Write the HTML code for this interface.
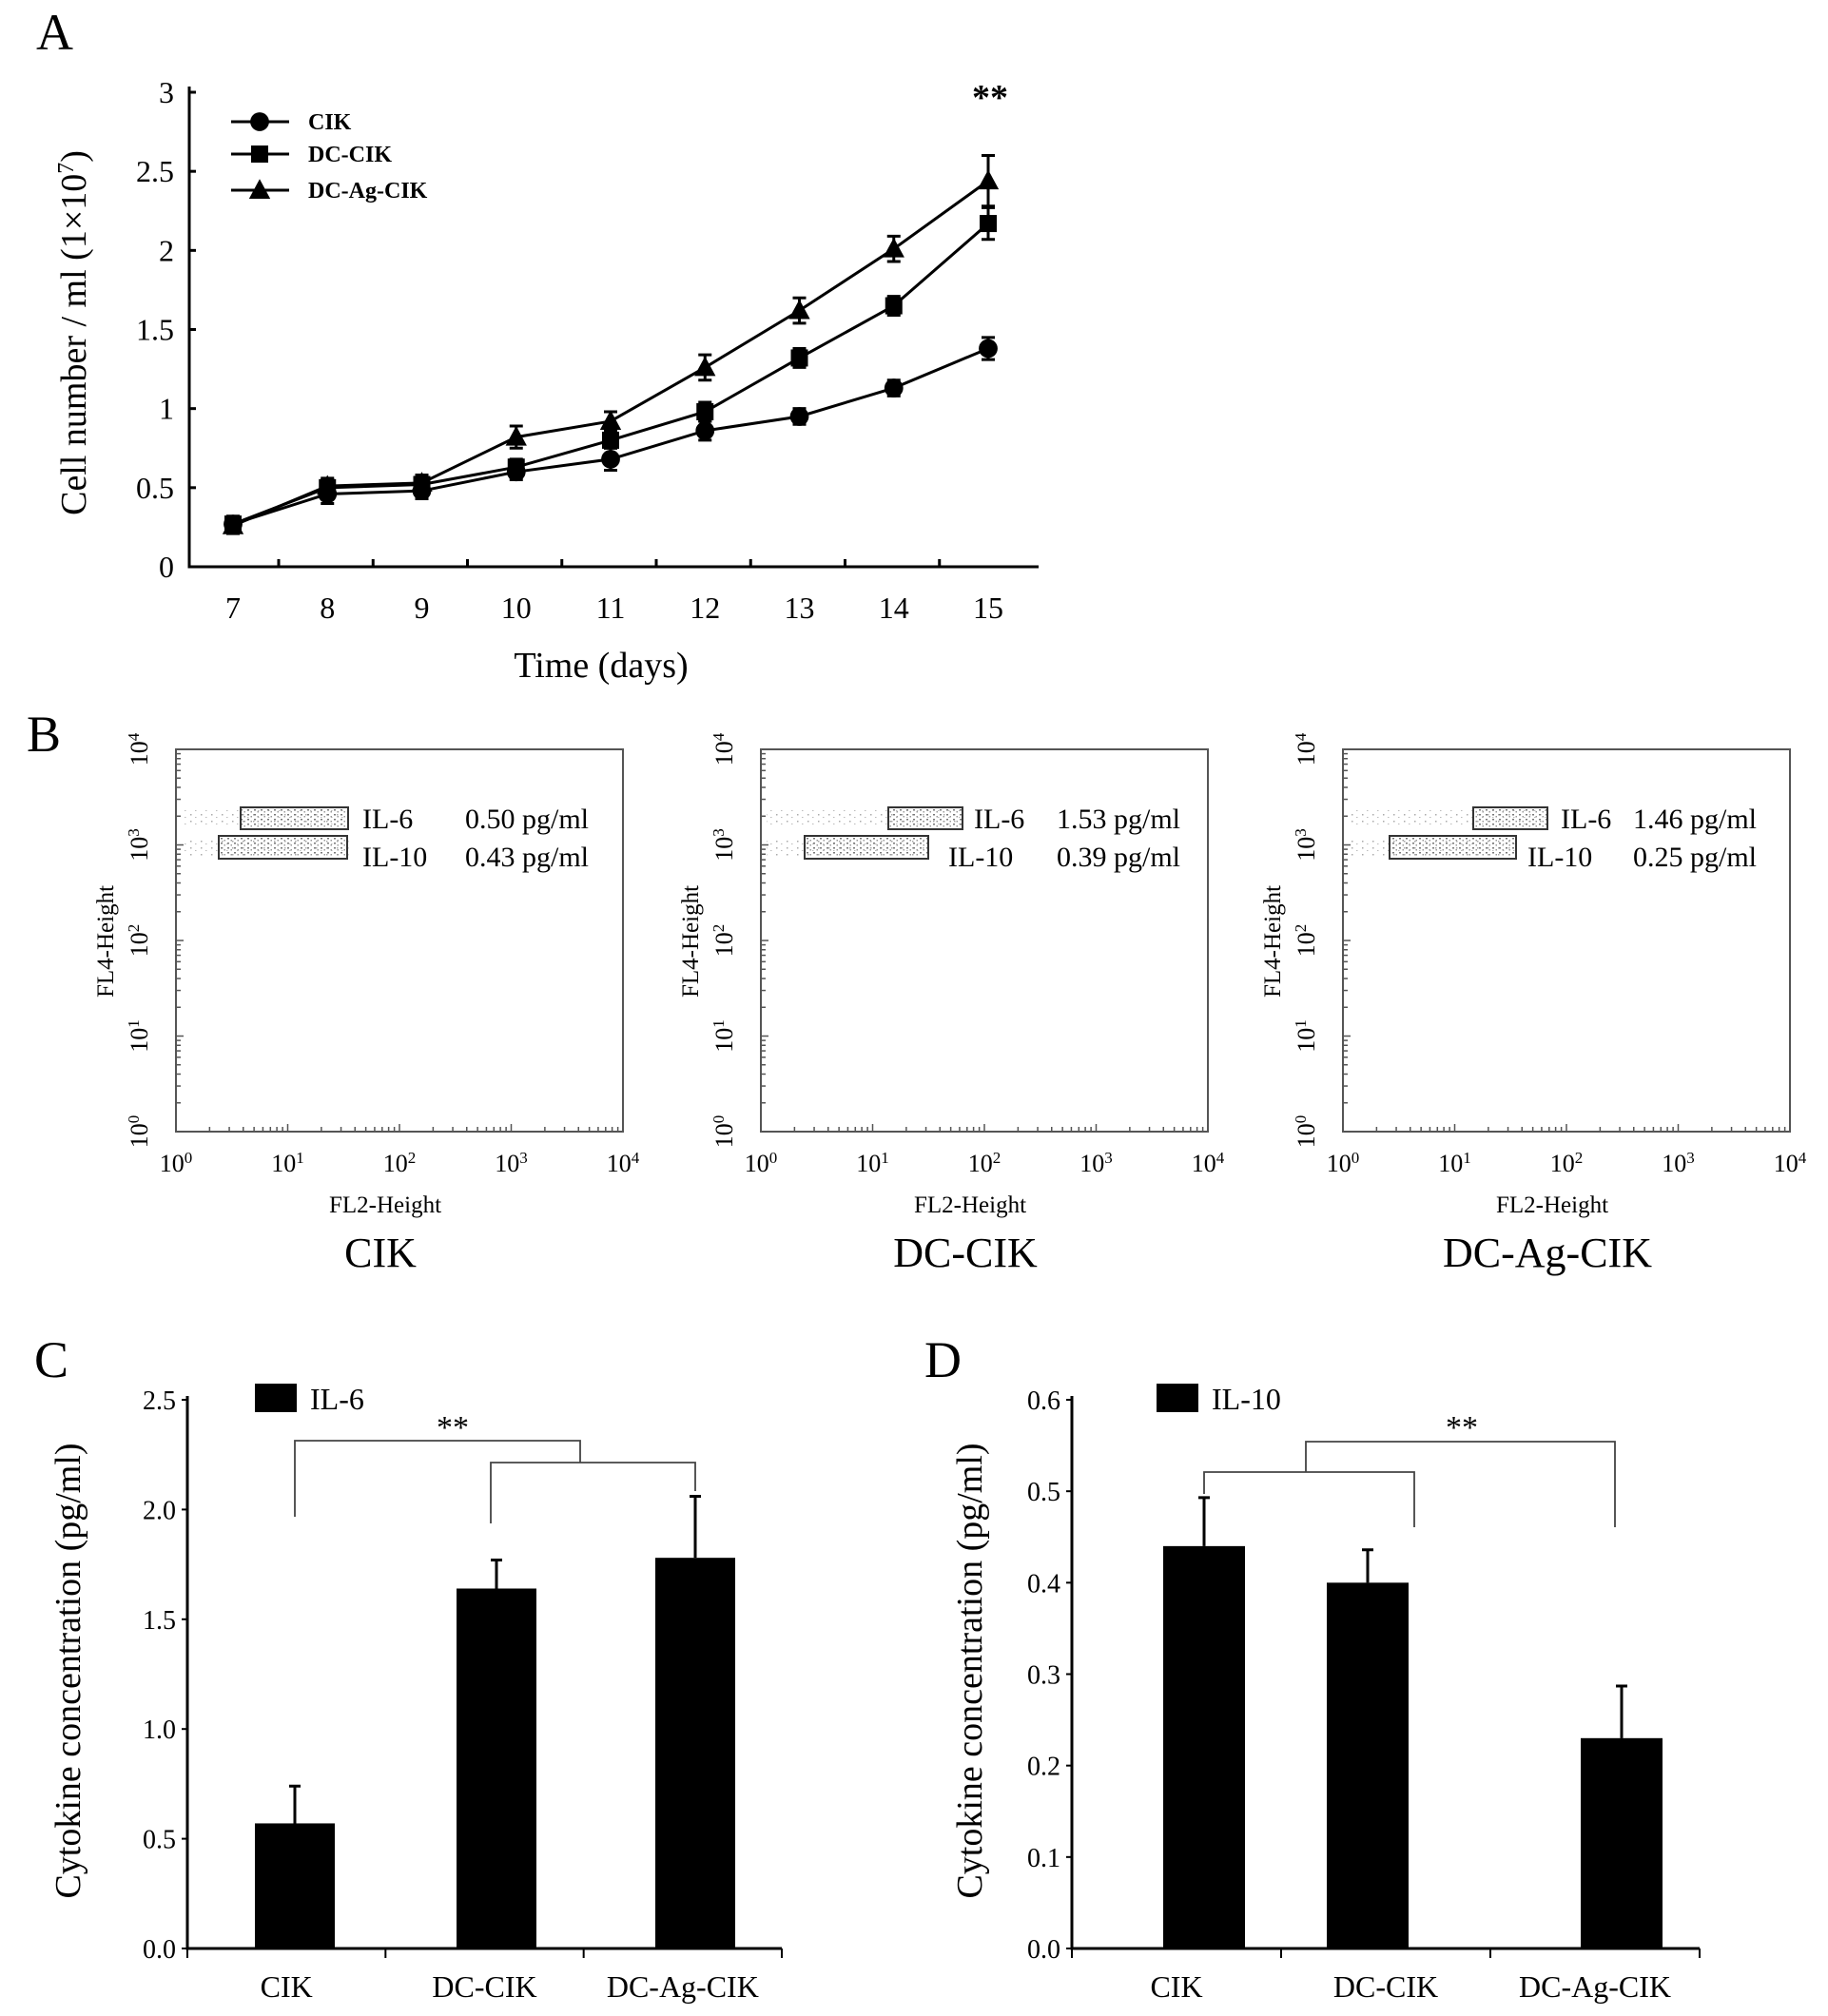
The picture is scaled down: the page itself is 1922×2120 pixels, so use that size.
<!DOCTYPE html>
<html><head><meta charset="utf-8">
<style>
html,body{margin:0;padding:0;background:#fff;}
svg{display:block;font-family:"Liberation Serif",serif;}
</style></head>
<body>
<svg id="fig" width="1922" height="2120" viewBox="0 0 1922 2120" xmlns="http://www.w3.org/2000/svg">
<defs>
<pattern id="speck" width="7" height="5" patternUnits="userSpaceOnUse">
<rect x="1" y="1" width="2" height="1.5" fill="#777"/><rect x="4.5" y="3" width="1.5" height="1.5" fill="#999"/>
</pattern>
<pattern id="speckLight" width="11" height="7" patternUnits="userSpaceOnUse">
<rect x="2" y="2" width="1.5" height="1.5" fill="#aaa"/><rect x="7" y="5" width="1.5" height="1" fill="#bbb"/>
</pattern>
</defs>
<rect width="1922" height="2120" fill="#fff"/>
<g id="A"></g>
<g id="B"></g>
<g id="C"></g>
<g id="D"></g>
</svg>
<script>
// ---- Panel A data ----
const days = [7,8,9,10,11,12,13,14,15];
const cikVals = [0.27,0.46,0.48,0.60,0.68,0.86,0.95,1.13,1.38];
const cikErr = [0.05,0.06,0.05,0.05,0.07,0.06,0.05,0.05,0.07];
const dccikVals = [0.27,0.50,0.52,0.63,0.80,0.98,1.32,1.65,2.17];
const dccikErr = [0.04,0.05,0.05,0.05,0.05,0.06,0.06,0.06,0.10];
const dcagVals = [0.26,0.51,0.53,0.82,0.92,1.26,1.62,2.01,2.44];
const dcagErr = [0.05,0.05,0.05,0.07,0.06,0.08,0.08,0.08,0.16];
const aYTicks = [0,0.5,1,1.5,2,2.5,3];
const aYTickLabels = ["0","0.5","1","1.5","2","2.5","3"];
// ---- Panel B data ----
const flowGroups = ["CIK","DC-CIK","DC-Ag-CIK"];
const il6Text = ["0.50 pg/ml","1.53 pg/ml","1.46 pg/ml"];
const il10Text = ["0.43 pg/ml","0.39 pg/ml","0.25 pg/ml"];
// ---- Panel C/D data ----
const barCats = ["CIK","DC-CIK","DC-Ag-CIK"];
const il6Vals = [0.57,1.64,1.78];
const il6Err = [0.17,0.13,0.28];
const il6Ticks = [0,0.5,1.0,1.5,2.0,2.5];
const il6TickLabels = ["0.0","0.5","1.0","1.5","2.0","2.5"];
const il10Vals = [0.44,0.40,0.23];
const il10Err = [0.053,0.036,0.057];
const il10Ticks = [0,0.1,0.2,0.3,0.4,0.5,0.6];
const il10TickLabels = ["0.0","0.1","0.2","0.3","0.4","0.5","0.6"];

const NS="http://www.w3.org/2000/svg";
function mk(parent,tag,attrs,text){const e=document.createElementNS(NS,tag);for(const k in attrs)e.setAttribute(k,attrs[k]);if(text!==undefined)e.textContent=text;parent.appendChild(e);return e;}

// ===== Panel A =====
(function(){
const g=document.getElementById('A');
const x0=199,xEnd=1092,y0=596,y3=97;
const xs=d=>245+(d-7)*(1039-245)/8;
const ys=v=>y0-(v/3)*(y0-y3);
let t=mk(g,'text',{x:38,y:52,'font-size':54},'A');

let ax=mk(g,'path',{d:`M${x0},${y3-6} V${y0} H${xEnd}`,stroke:'#000','stroke-width':3,fill:'none'});

aYTicks.forEach((v,i)=>{mk(g,'line',{x1:x0,x2:x0+7,y1:ys(v),y2:ys(v),stroke:'#000','stroke-width':3});
 const l=mk(g,'text',{x:x0-16,y:ys(v)+11,'font-size':32,'text-anchor':'end'},aYTickLabels[i]);
 });
days.forEach((d,i)=>{
 if(i<8)mk(g,'line',{x1:xs(d)+48,x2:xs(d)+48,y1:y0,y2:y0-8,stroke:'#000','stroke-width':3});
 const l=mk(g,'text',{x:xs(d),y:650,'font-size':32,'text-anchor':'middle'},String(d));
 });
let xt=mk(g,'text',{x:632,y:712,'font-size':38,'text-anchor':'middle'},'Time (days)');

let yt=mk(g,'text',{x:0,y:0,'font-size':38,'text-anchor':'middle',transform:'translate(90,350) rotate(-90)'});
yt.innerHTML='Cell number / ml (1×10<tspan baseline-shift="super" font-size="24">7</tspan>)';

const series=[[cikVals,cikErr,'circle','cik'],[dccikVals,dccikErr,'square','dc-cik'],[dcagVals,dcagErr,'triangle','dc-ag-cik']];
function marker(gg,type,cx,cy,s){
 if(type==='circle')return mk(gg,'circle',{cx,cy,r:s*0.55,fill:'#000'});
 if(type==='square')return mk(gg,'rect',{x:cx-s*0.5,y:cy-s*0.5,width:s,height:s,fill:'#000'});
 return mk(gg,'path',{d:`M${cx},${cy-s*0.65} L${cx+s*0.62},${cy+s*0.5} L${cx-s*0.62},${cy+s*0.5}Z`,fill:'#000'});}
series.forEach(([vals,err,type,name])=>{
 const sg=mk(g,'g',{});
 const p=mk(sg,'polyline',{points:vals.map((v,i)=>xs(days[i])+','+ys(v)).join(' '),fill:'none',stroke:'#000','stroke-width':3});
 
 vals.forEach((v,i)=>{const cx=xs(days[i]);
  const e=mk(sg,'path',{d:`M${cx},${ys(v-err[i])} V${ys(v+err[i])} M${cx-7},${ys(v-err[i])} H${cx+7} M${cx-7},${ys(v+err[i])} H${cx+7}`,stroke:'#000','stroke-width':3,fill:'none'});
  
  const m=marker(sg,type,cx,ys(v),18);});
});
const leg=[['CIK','circle',128],['DC-CIK','square',162],['DC-Ag-CIK','triangle',200]];
leg.forEach(([n,type,y])=>{const lg=mk(g,'g',{});
 mk(lg,'line',{x1:243,x2:304,y1:y,y2:y,stroke:'#000','stroke-width':3});marker(lg,type,273,y,18);
 mk(lg,'text',{x:324,y:y+8,'font-size':24,'font-weight':'bold'},n);});
let st=mk(g,'text',{x:1041,y:115,'font-size':38,'font-weight':'bold','text-anchor':'middle'},'**');

})();

// ===== Panel B =====
(function(){
const g=document.getElementById('B');
let t=mk(g,'text',{x:28,y:790,'font-size':54},'B');

const lefts=[185,800,1412];const W=470,top=788,bot=1190;
const il6Box=[[253,366],[934,1012],[1549,1627]];
const il10Box=[[230,365],[846,976],[1461,1594]];
const il6TX=[381,1024,1641],il6VX=[489,1111,1717];
const il10TX=[381,997,1606],il10VX=[489,1111,1717];
flowGroups.forEach((name,k)=>{
 const L=lefts[k],R=L+W;
 const pg=mk(g,'g',{});
 mk(pg,'rect',{x:L,y:top,width:W,height:bot-top,fill:'none',stroke:'#555','stroke-width':2});
 const dec=(bot-top)/4, decx=W/4;
 for(let i=0;i<=4;i++){
  const yl=mk(pg,'text',{x:0,y:0,'font-size':26,'text-anchor':'middle',transform:`translate(${L-30},${bot-i*dec}) rotate(-90)`});
  yl.innerHTML='10<tspan baseline-shift="super" font-size="17">'+i+'</tspan>';
  
  const xl=mk(pg,'text',{x:L+i*decx,y:1232,'font-size':26,'text-anchor':'middle'});
  xl.innerHTML='10<tspan baseline-shift="super" font-size="17">'+i+'</tspan>';
  
  if(i<4)for(let m=1;m<10;m++){const xx=L+(i+Math.log10(m))*decx;mk(pg,'line',{x1:xx,x2:xx,y1:bot,y2:bot-(m===1?8:5),stroke:'#555','stroke-width':1.5});
   const yy=bot-(i+Math.log10(m))*dec;mk(pg,'line',{x1:L,x2:L+(m===1?8:5),y1:yy,y2:yy,stroke:'#555','stroke-width':1.5});}
 }
 const yt=mk(pg,'text',{x:0,y:0,'font-size':25,'text-anchor':'middle',transform:`translate(${L-66},990) rotate(-90)`},'FL4-Height');
 
 const xt=mk(pg,'text',{x:L+220,y:1275,'font-size':25,'text-anchor':'middle'},'FL2-Height');
 
 const gt=mk(pg,'text',{x:L+215,y:1332,'font-size':44,'text-anchor':'middle'},name);
 
 mk(pg,'rect',{x:L+6,y:852,width:il6Box[k][1]-L-4,height:17,fill:'url(#speckLight)'});
 mk(pg,'rect',{x:L+6,y:882,width:il10Box[k][1]-L-4,height:19,fill:'url(#speckLight)'});
 mk(pg,'rect',{x:il6Box[k][0],y:851,width:il6Box[k][1]-il6Box[k][0],height:20,fill:'url(#speck)'});
 mk(pg,'rect',{x:il10Box[k][0],y:881,width:il10Box[k][1]-il10Box[k][0],height:20,fill:'url(#speck)'});
 const b1=mk(pg,'rect',{x:il6Box[k][0],y:849,width:il6Box[k][1]-il6Box[k][0],height:23,fill:'none',stroke:'#333','stroke-width':2});
 
 const b2=mk(pg,'rect',{x:il10Box[k][0],y:879,width:il10Box[k][1]-il10Box[k][0],height:24,fill:'none',stroke:'#333','stroke-width':2});
 
 const a=mk(pg,'text',{x:il6TX[k],y:871,'font-size':30},'IL-6');
 const b=mk(pg,'text',{x:il6VX[k],y:871,'font-size':30},il6Text[k]);
 const c=mk(pg,'text',{x:il10TX[k],y:911,'font-size':30},'IL-10');
 const d=mk(pg,'text',{x:il10VX[k],y:911,'font-size':30},il10Text[k]);
});
})();

// ===== Panels C & D =====
function barPanel(id,letter,lx,axX,axEnd,ymax,ticks,tickLabels,vals,errs,barX,barW,legLabel,legX,titleX,brackets,starX){
 const g=document.getElementById(id);
 const y0=2049,yTop=1472;
 const ys=v=>y0-(v/ymax)*(y0-yTop);
 let t=mk(g,'text',{x:lx,y:1448,'font-size':54},letter);
 
 const ax=mk(g,'path',{d:`M${axX},${yTop-4} V${y0} H${axEnd}`,stroke:'#000','stroke-width':3,fill:'none'});
 
 ticks.forEach((v,i)=>{mk(g,'line',{x1:axX-6,x2:axX,y1:ys(v),y2:ys(v),stroke:'#000','stroke-width':2});
  const l=mk(g,'text',{x:axX-12,y:ys(v)+10,'font-size':28,'text-anchor':'end'},tickLabels[i]);
  });
 const step=(axEnd-axX)/3;
 for(let i=0;i<=3;i++)mk(g,'line',{x1:axX+i*step,x2:axX+i*step,y1:y0,y2:y0+10,stroke:'#000','stroke-width':2});
 vals.forEach((v,i)=>{
  const r=mk(g,'rect',{x:barX[i],y:ys(v),width:barW,height:y0-ys(v),fill:'#000'});
  
  const cx=barX[i]+barW/2;
  const e=mk(g,'path',{d:`M${cx},${ys(v)} V${ys(v+errs[i])} M${cx-6},${ys(v+errs[i])} H${cx+6}`,stroke:'#000','stroke-width':3,fill:'none'});
  
  const l=mk(g,'text',{x:axX+(i+0.5)*step,y:2100,'font-size':32,'text-anchor':'middle'},barCats[i]);
  });
 const yt=mk(g,'text',{x:0,y:0,'font-size':38,'text-anchor':'middle',transform:`translate(${titleX},1757) rotate(-90)`},'Cytokine concentration (pg/ml)');
 
 const lg=mk(g,'g',{});
 mk(lg,'rect',{x:legX,y:1455,width:44,height:30,fill:'#000'});
 mk(lg,'text',{x:legX+58,y:1482,'font-size':32},legLabel);
 const br=mk(g,'path',{d:brackets,stroke:'#444','stroke-width':1.8,fill:'none'});
 
 const s=mk(g,'text',{x:starX,y:1512,'font-size':34,'text-anchor':'middle'},'**');
 
}
barPanel('C','C',36,197,822,2.5,il6Ticks,il6TickLabels,il6Vals,il6Err,[268,480,689],84,'IL-6',268,84,
 'M310,1595 V1515 H610 V1538 M516,1602 V1538 H731 V1568',476);
barPanel('D','D',972,1127,1787,0.6,il10Ticks,il10TickLabels,il10Vals,il10Err,[1223,1395,1662],86,'IL-10',1216,1032,
 'M1266,1571 V1548 H1487 V1606 M1373,1548 V1516 H1698 V1606',1537);
</script>
</body></html>
